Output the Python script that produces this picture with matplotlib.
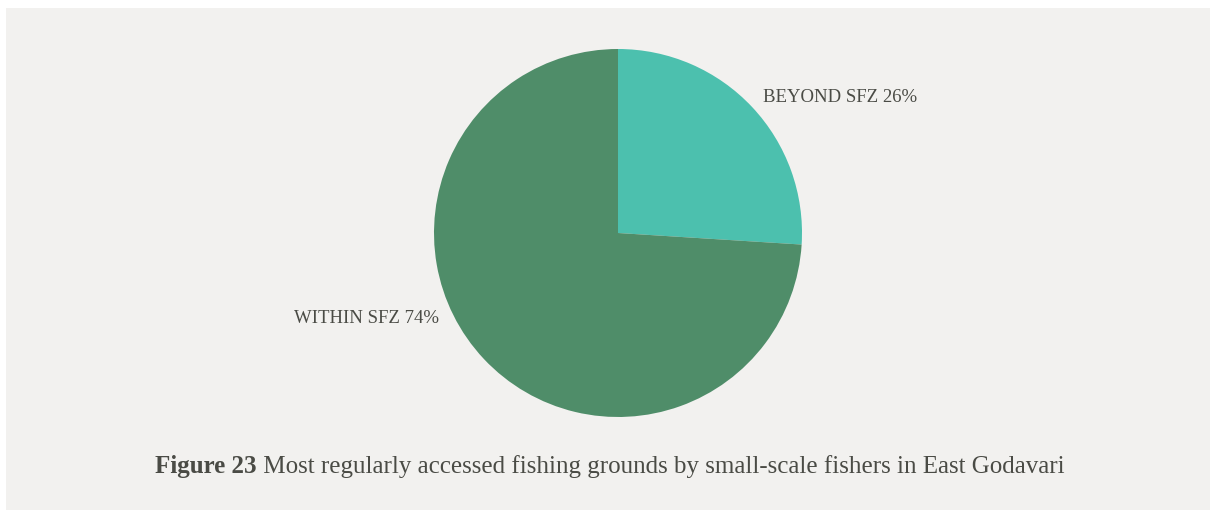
import matplotlib.pyplot as plt
from matplotlib.patches import Rectangle

# share of small-scale fishers by fishing ground
grounds = ["BEYOND SFZ", "WITHIN SFZ"]
shares = [26, 74]
colors = ["#4cc0ae", "#4f8d69"]

caption_bold = "Figure 23"
caption_text = " Most regularly accessed fishing grounds by small-scale fishers in East Godavari"

text_color = "#4a4b45"
panel_color = "#f2f1ef"

W, H = 1210, 511
fig = plt.figure(figsize=(W / 100, H / 100), dpi=100, facecolor="white")

# grey panel behind everything
fig.patches.append(Rectangle((6 / W, 1 / H), 1 - 6 / W, (H - 9) / H,
                             transform=fig.transFigure, facecolor=panel_color,
                             edgecolor="none", zorder=-5))

cx, cy, r = 618, 233, 184
ax = fig.add_axes([(cx - r) / W, (H - cy - r) / H, 2 * r / W, 2 * r / H])
ax.set_zorder(2)
ax.set_facecolor("none")
ax.pie(shares, colors=colors, startangle=90, counterclock=False,
       wedgeprops=dict(linewidth=0))
ax.set_xlim(-1, 1)
ax.set_ylim(-1, 1)
ax.axis("off")

label_style = dict(family="Liberation Serif", fontsize=13.5, color=text_color,
                   va="center", clip_on=False)
ax.text(0.788, 0.739, f"{grounds[0]} {shares[0]}%", ha="left", **label_style)
ax.text(-0.973, -0.467, f"{grounds[1]} {shares[1]}%", ha="right", **label_style)

# caption: bold figure number followed by regular text, centred as one line
cap_style = dict(family="Liberation Serif", fontsize=18, color=text_color,
                 va="baseline", transform=fig.transFigure)
t1 = fig.text(0, 0, caption_bold, fontweight="bold", **cap_style)
t2 = fig.text(0, 0, caption_text, **cap_style)
fig.canvas.draw()
rend = fig.canvas.get_renderer()
w1 = t1.get_window_extent(rend).width
w2 = t2.get_window_extent(rend).width
x0 = 610 - (w1 + w2) / 2
base = H - 473
t1.set_position((x0 / W, base / H))
t2.set_position(((x0 + w1) / W, base / H))

fig.savefig("out.png", dpi=100, facecolor="white")
